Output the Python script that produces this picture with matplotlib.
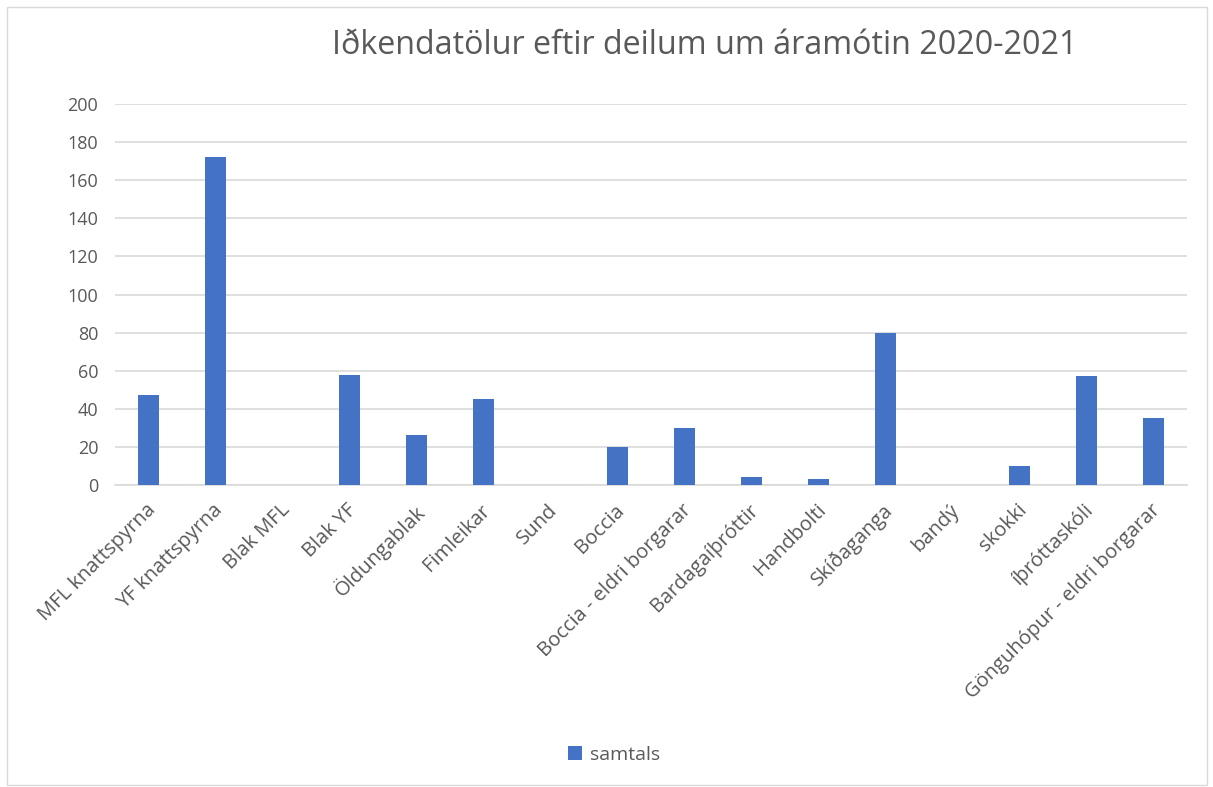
import matplotlib.pyplot as plt
from matplotlib.patches import Rectangle
from matplotlib.transforms import ScaledTranslation

# flokkar og gildi
deildir = ["MFL knattspyrna", "YF knattspyrna", "Blak MFL", "Blak YF", "Öldungablak",
           "Fimleikar", "Sund", "Boccia", "Boccia - eldri borgarar", "Bardagaíþróttir",
           "Handbolti", "Skíðaganga", "bandý", "skokki", "íþróttaskóli",
           "Gönguhópur - eldri borgarar"]
samtals = [47, 172, 0, 58, 26, 45, 0, 20, 30, 4, 3, 80, 0, 10, 57, 35]
y_ticks = [0, 20, 40, 60, 80, 100, 120, 140, 160, 180, 200]

plt.rcParams['font.family'] = ['Open Sans', 'DejaVu Sans']
grar = '#595959'

fig = plt.figure(figsize=(12.13, 7.87), dpi=100)
ax = fig.add_axes([115 / 1213, 1 - 485 / 787, 1072 / 1213, 381 / 787])

x = range(len(deildir))
ax.bar(x, samtals, width=0.31, color='#4472C4', label='samtals', zorder=3)

ax.set_xlim(-0.5, len(deildir) - 0.5)
ax.set_ylim(0, 200)
ax.set_yticks(y_ticks)
ax.set_yticklabels([str(t) for t in y_ticks], fontsize=13, color=grar)
ax.set_xticks(list(x))
ax.set_xticklabels(deildir, rotation=45, ha='right', rotation_mode='anchor',
                   fontsize=14.5, color=grar)
ax.tick_params(axis='y', length=0, pad=12)
ax.tick_params(axis='x', length=0, pad=11)
# hlidra merkjum adeins til vinstri eins og i Excel
faersla = ScaledTranslation(-3 / 100, 0, fig.dpi_scale_trans)
for lbl in ax.get_xticklabels():
    lbl.set_transform(lbl.get_transform() + faersla)
ax.grid(axis='y', color='#D9D9D9', linewidth=1.2, zorder=0)
for s in ['top', 'right', 'left']:
    ax.spines[s].set_visible(False)
ax.spines['bottom'].set_color('#D9D9D9')
ax.spines['bottom'].set_linewidth(1.2)

fig.text(705 / 1213, 1 - 46 / 787, "Iðkendatölur eftir deilum um áramótin 2020-2021",
         ha='center', va='center', fontsize=23.2, color=grar)

fig.legend(loc='center', bbox_to_anchor=(614 / 1213, 1 - 755 / 787), frameon=False,
           fontsize=14, labelcolor=grar, handlelength=0.7, handleheight=0.7,
           handletextpad=0.4)

# rammi utan um myndina
fig.patches.append(Rectangle((7 / 1213, 2 / 787), 1200 / 1213, 778 / 787,
                             transform=fig.transFigure, fill=False,
                             edgecolor='#D9D9D9', linewidth=1))

fig.savefig('out.png', dpi=100)
